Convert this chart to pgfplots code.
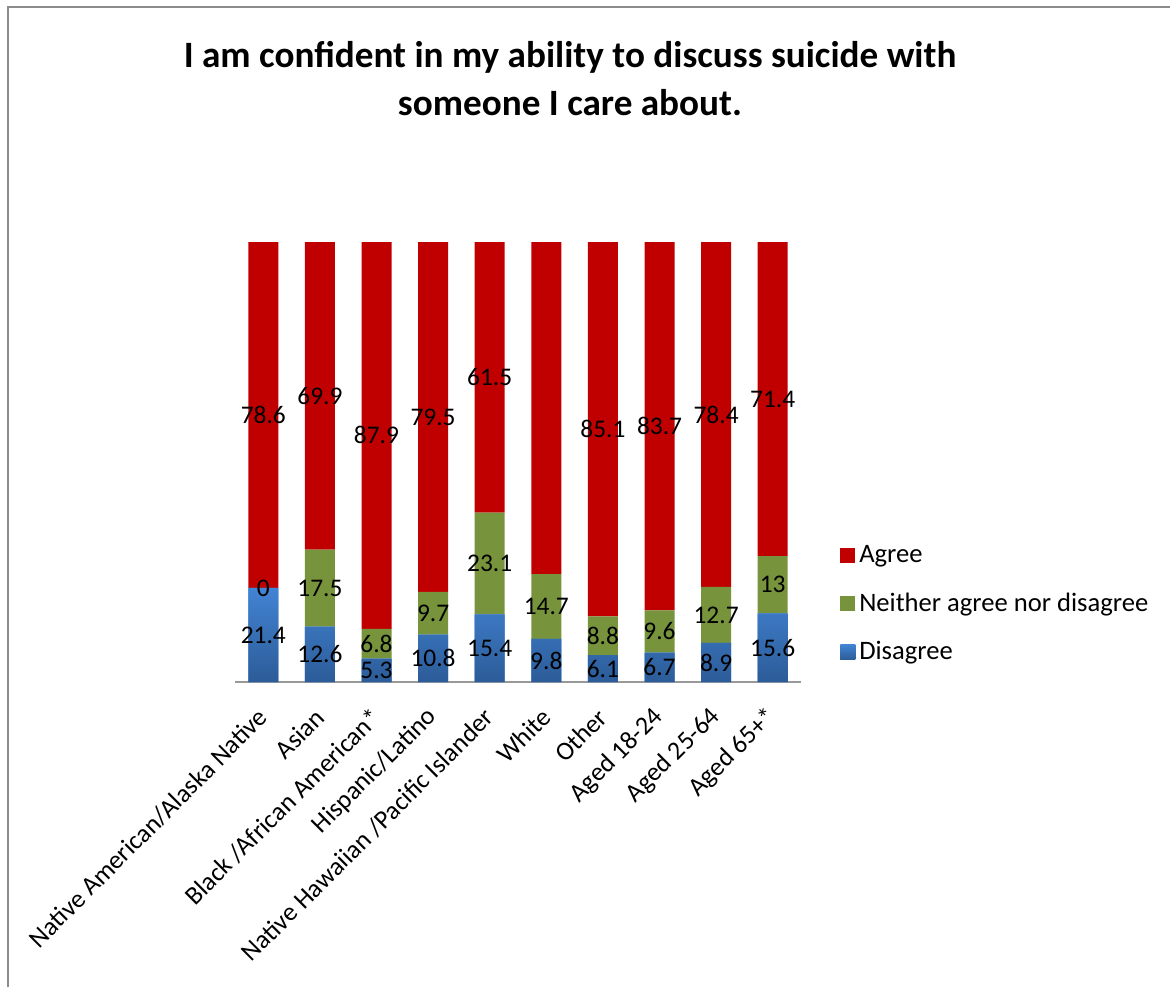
\documentclass[border=0pt]{standalone}
\usepackage{pgfplots}
\pgfplotsset{compat=1.18}
\usepackage{pgfplotstable}
\usepackage{fontspec}
\setmainfont{Carlito}

\definecolor{agree}{HTML}{C00000}
\definecolor{neither}{HTML}{77933C}
\definecolor{distop}{HTML}{4283D3}
\definecolor{disbot}{HTML}{2C5C98}
\definecolor{framegray}{HTML}{8C8C8C}

% disagree / neither / agree, in percent
\pgfplotstableread{
x  dis   nei   agr
0  21.4  0     78.6
1  12.6  17.5  69.9
2  5.3   6.8   87.9
3  10.8  9.7   79.5
4  15.4  23.1  61.5
5  9.8   14.7  75.6
6  6.1   8.8   85.1
7  6.7   9.6   83.7
8  8.9   12.7  78.4
9  15.6  13    71.4
}\survey

\pgfplotsset{
  seglabels/.style={
    point meta=explicit,
    nodes near coords={\pgfmathprintnumber{\pgfplotspointmeta}},
    every node near coord/.append style={anchor=center,
      font=\fontsize{12.7}{15}\selectfont, text=black},
  },
}

\begin{document}
\begin{tikzpicture}
\useasboundingbox (0,0) rectangle (585pt,-493.5pt);
\draw[framegray, line width=0.8pt] (4pt,-493.5pt) -- (4pt,-3.5pt) -- (585pt,-3.5pt);
\node[align=center, font=\fontsize{18.6}{24}\selectfont\bfseries] at (285pt,-39.5pt)
  {I am confident in my ability to discuss suicide with\\someone I care about.};
\begin{axis}[
    at={(117.5pt,-341pt)}, anchor=south west,
    scale only axis,
    width=283pt, height=220pt,
    ybar stacked,
    bar width=15pt,
    xmin=-0.5, xmax=9.5,
    ymin=0, ymax=100,
    axis x line=bottom, axis y line=none,
    x axis line style={-, draw=gray!80, line width=1pt},
    major tick length=0pt,
    xtick={0,...,9},
    xticklabels={Native American/Alaska Native, Asian, Black /African American*,
      Hispanic/Latino, Native Hawaiian /Pacific Islander, White, Other,
      Aged 18-24, Aged 25-64, Aged 65+*},
    xticklabel style={xshift=0pt, yshift=-15.5pt, font=\fontsize{13}{15}\selectfont,
      rotate=45, anchor=east, inner sep=0pt},
    /pgf/number format/assume math mode=true,
    reverse legend,
    legend cell align=left,
    legend style={at={(1.058,0.33)}, anchor=north west, draw=none, fill=none,
      font=\fontsize{13.3}{16}\selectfont, row sep=9.7pt},
    legend image code/.code={\fill[#1] (0pt,-3.75pt) rectangle (7.5pt,3.75pt);},
]
\addplot[seglabels, fill=distop, draw=none, top color=distop, bottom color=disbot] table[x=x, y=dis, meta=dis] {\survey};
\addlegendentry{Disagree}
\addplot[seglabels, fill=neither, draw=none] table[x=x, y=nei, meta=nei] {\survey};
\addlegendentry{Neither agree nor disagree}
\addplot[seglabels, fill=agree, draw=none] table[x=x, y=agr, meta=agr] {\survey};
\addlegendentry{Agree}
% the empty "neither" segment of the first bar keeps its label
\addplot[only marks, stack plots=false, forget plot, black, mark=text, text mark={0},
  text mark as node=true, text mark style={font=\fontsize{12.7}{15}\selectfont, anchor=center}]
  coordinates {(0,21.4)};
\end{axis}
\end{tikzpicture}
\end{document}
